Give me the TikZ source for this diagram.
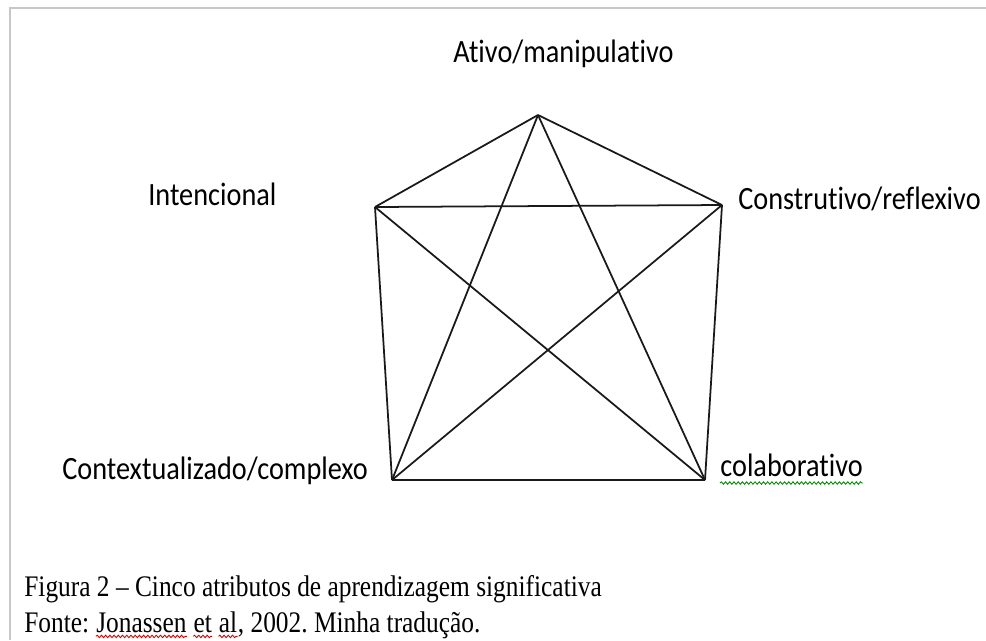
\documentclass[tikz,border=0pt]{standalone}
\usepackage{fontspec}
\setmainfont{Carlito}[FakeStretch=0.87,Ligatures=NoCommon]
\newfontfamily\capfont{Liberation Serif}[FakeStretch=0.85]
\usetikzlibrary{positioning,decorations.pathmorphing}

\begin{document}
\begin{tikzpicture}[x=0.02cm,y=-0.02cm,
	attr/.style={anchor=base west,inner sep=0pt,font=\fontsize{18.5}{22}\selectfont},
	legenda/.style={anchor=base west,inner sep=0pt,font=\capfont\fontsize{17}{20}\selectfont},
	aresta/.style={line width=1pt,black!90},
	spell/.style={decorate,decoration={snake,segment length=2.4pt,amplitude=0.7pt},line width=0.5pt}]
	\useasboundingbox (0,0) rectangle (986,640);
	\draw [black!22,line width=0.6pt] (10,640) -- (10,8) -- (986,8);

	\coordinate (A) at (538,115);
	\coordinate (I) at (375,207);
	\coordinate (R) at (722,205);
	\coordinate (X) at (392,480);
	\coordinate (L) at (705,480);

	\node [attr](ativo) at (453,62) {Ativo/manipulativo};
	\node [attr](inten) at (148,205) {Intencional};
	\node [attr](constr) at (738,209) {Construtivo/reflexivo};
	\node [attr](contex) at (62,479) {Contextualizado/complexo};
	\node [attr](colab) at (720,476) {colaborativo};

	\foreach \a/\b in {A/I,A/R,A/X,A/L,I/R,I/X,I/L,R/X,R/L,X/L}
		\draw [aresta] (\a) -- (\b);

	\node [legenda](fig) at (24,596) {Figura 2 – Cinco atributos de aprendizagem significativa};
	\node [legenda](fonte) at (24,632) {Fonte:};
	\node [legenda,base right=3.6pt of fonte](jon) {Jonassen};
	\node [legenda,base right=3.6pt of jon](et) {et};
	\node [legenda,base right=3.6pt of et](al) {al};
	\node [legenda,base right=0pt of al](rest) {, 2002.\ Minha tradução.};

	\draw [spell,green!55!black] ([yshift=-4pt]colab.base west) -- ([yshift=-4pt]colab.base east);
	\foreach \w in {jon,et,al}
		\draw [spell,red!85!black] ([yshift=-2.5pt]\w.base west) -- ([yshift=-2.5pt]\w.base east);
\end{tikzpicture}
\end{document}
